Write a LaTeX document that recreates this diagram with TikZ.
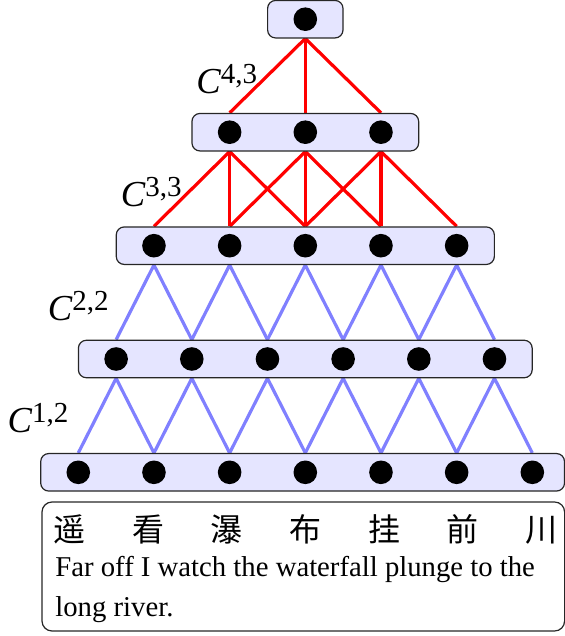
\documentclass[tikz,border=0pt]{standalone}
\usepackage{fontspec}
\setmainfont{Liberation Serif}
\newfontfamily\cjk{Noto Sans CJK SC}
\usetikzlibrary{backgrounds}
\tikzset{
  rowbox/.style={draw=black!85, line width=0.6pt, fill=blue!10, rounded corners=4pt, minimum height=18.75pt, inner sep=0pt},
  dot/.style={circle, fill=black, minimum size=11.8pt, inner sep=0pt},
  blueedge/.style={draw=blue!50, line width=1.6pt},
  rededge/.style={draw=red, line width=1.6pt},
  textbox/.style={draw=black!85, line width=0.6pt, rounded corners=5pt, inner sep=0pt},
  lbl/.style={anchor=base west, inner sep=0pt},
  entext/.style={anchor=base west, inner sep=0pt, font=\fontsize{14.36}{20}\selectfont},
}
\newcommand{\clabel}[1]{{\fontsize{18.3}{20}\selectfont\itshape C}\raisebox{5pt}{\fontsize{14.5}{15}\selectfont #1}}
\begin{document}
\begin{tikzpicture}[x=0.5pt, y=-0.5pt]
\useasboundingbox (0,0) rectangle (565,636);
% row boxes
\node[rowbox, minimum width=261.9pt] (r5) at (302.6,472.3) {};
\node[rowbox, minimum width=226.9pt] (r4) at (305.3,359) {};
\node[rowbox, minimum width=189.05pt] (r3) at (305.3,245.7) {};
\node[rowbox, minimum width=113.35pt] (r2) at (305.3,132.2) {};
\node[rowbox, minimum width=37.7pt] (r1) at (305.3,19.2) {};
% dots
\foreach \i in {1,...,7} \node[dot] (d5-\i) at ({305.3+(\i-4)*75.67},472.3) {};
\foreach \i in {1,...,6} \node[dot] (d4-\i) at ({305.3+(\i-3.5)*75.67},359) {};
\foreach \i in {1,...,5} \node[dot] (d3-\i) at ({305.3+(\i-3)*75.67},245.7) {};
\foreach \i in {1,...,3} \node[dot] (d2-\i) at ({305.3+(\i-2)*75.67},132.2) {};
\node[dot] (d1-1) at (305.3,19.2) {};
% connectors
\begin{scope}[on background layer]
\foreach \i in {1,...,6} {
  \pgfmathtruncatemacro{\j}{\i+1}
  \draw[blueedge] (d5-\i |- r5.north) -- (d4-\i |- r4.south) -- (d5-\j |- r5.north);
}
\foreach \i in {1,...,5} {
  \pgfmathtruncatemacro{\j}{\i+1}
  \draw[blueedge] (d4-\i |- r4.north) -- (d3-\i |- r3.south) -- (d4-\j |- r4.north);
}
\foreach \i in {1,...,3} {
  \pgfmathtruncatemacro{\j}{\i+1}
  \pgfmathtruncatemacro{\k}{\i+2}
  \draw[rededge] (d2-\i |- r2.south) -- (d3-\i |- r3.north);
  \draw[rededge] (d2-\i |- r2.south) -- (d3-\j |- r3.north);
  \draw[rededge] (d2-\i |- r2.south) -- (d3-\k |- r3.north);
  \draw[rededge] (d1-1 |- r1.south) -- (d2-\i |- r2.north);
}
\end{scope}
% labels
\node[lbl] (c43) at (196,93.3) {\clabel{4,3}};
\node[lbl] (c33) at (120.5,206.7) {\clabel{3,3}};
\node[lbl] (c22) at (47.5,320) {\clabel{2,2}};
\node[lbl] (c12) at (7.3,432.7) {\clabel{1,2}};
% text box
\node[textbox, minimum width=261.3pt, minimum height=64.5pt] (tb) at (303.3,566.5) {};
\node[anchor=base west, inner sep=0pt] (zh) at (53,541) {\fontsize{16}{18}\selectfont\cjk\hbox to 252pt{遥\hfill 看\hfill 瀑\hfill 布\hfill 挂\hfill 前\hfill 川}};
\node[entext] (en1) at (55,576) {Far off I watch the waterfall plunge to the};
\node[entext] (en2) at (55,616) {long river.};
\end{tikzpicture}
\end{document}
